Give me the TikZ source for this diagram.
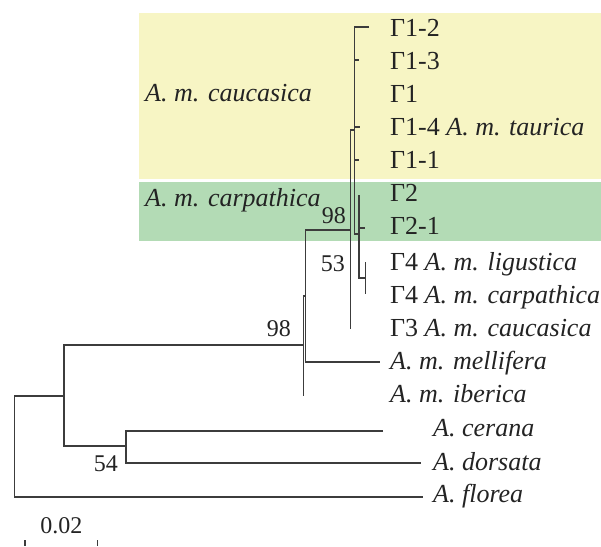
\documentclass[tikz,border=0pt]{standalone}
\usepackage{fontspec}
\setmainfont{Liberation Serif}
\definecolor{yellowbg}{RGB}{247,245,196}
\definecolor{greenbg}{RGB}{179,219,181}
\definecolor{treeline}{RGB}{60,60,60}
\definecolor{txt}{RGB}{35,35,35}
\begin{document}
\begin{tikzpicture}[x=1pt,y=-1pt,
  branch/.style={draw=treeline,line width=1.2pt},
  leaf/.style={anchor=base west,inner sep=0pt,text=txt,font=\fontsize{26}{30}\selectfont},
  boot/.style={anchor=base east,inner sep=0pt,text=txt,font=\fontsize{24}{28}\selectfont}]
\useasboundingbox (0,0) rectangle (601,546);
% background bands
\fill[yellowbg] (139,13) rectangle (601,179);
\fill[greenbg] (139,182) rectangle (601,241);
% tips
\coordinate (t12) at (369,27);
\coordinate (t13) at (358.7,60);
\coordinate (t1) at (354.7,94);
\coordinate (t14) at (360,127);
\coordinate (t11) at (359,160);
\coordinate (t2) at (359,195);
\coordinate (t21) at (365,228);
\coordinate (t4l) at (365.3,262);
\coordinate (t4c) at (365.3,294);
\coordinate (t3) at (350.7,329);
\coordinate (tMel) at (380,362);
\coordinate (tIb) at (303.3,395.7);
\coordinate (tC) at (383,431);
\coordinate (tD) at (420.7,463);
\coordinate (tF) at (422.7,497);
% internal nodes
\coordinate (G4) at (365.3,278);
\coordinate (G2) at (359,234);
\coordinate (G1) at (354.7,130);
\coordinate (B) at (350.7,230);
\coordinate (Y) at (305.7,296);
\coordinate (X) at (303.3,345);
\coordinate (W) at (126,446);
\coordinate (Z) at (64,396);
\coordinate (R) at (14.7,446);
% branches
\draw[branch] (Z) -| (R) |- (tF);
\draw[branch] (X) -| (Z) |- (W);
\draw[branch] (tC) -| (W) |- (tD);
\draw[branch] (Y) -| (X) |- (tIb);
\draw[branch] (B) -| (Y) |- (tMel);
\draw[branch] (G1) -| (B) |- (t3);
\draw[branch] (t12) -| (G1) |- (G2);
\draw[branch] (G1 |- t13) -- (t13);
\draw[branch] (G1 |- t14) -- (t14);
\draw[branch] (G1 |- t11) -- (t11);
\draw[branch] (t2) |- (G4);
\draw[branch] (G2 |- t21) -- (t21);
\draw[branch] (t4l) -- (t4c);
% leaf labels
\node[leaf] (l12) at (390,36) {Γ1-2};
\node[leaf] (l13) at (390,69) {Γ1-3};
\node[leaf] (l1) at (390,102) {Γ1};
\node[leaf] (l14) at (390,135) {Γ1-4 \textit{A. m. taurica}};
\node[leaf] (l11) at (390,168) {Γ1-1};
\node[leaf] (l2) at (390,201) {Γ2};
\node[leaf] (l21) at (390,234) {Γ2-1};
\node[leaf] (l4l) at (390,270) {Γ4 \textit{A. m. ligustica}};
\node[leaf] (l4c) at (390,303) {Γ4 \textit{A. m. carpathica}};
\node[leaf] (l3) at (390,336) {Γ3 \textit{A. m. caucasica}};
\node[leaf] (lMel) at (390,369) {\textit{A. m. mellifera}};
\node[leaf] (lIb) at (390,402.7) {\textit{A. m. iberica}};
\node[leaf] (lC) at (433,436) {\textit{A. cerana}};
\node[leaf] (lD) at (433,470) {\textit{A. dorsata}};
\node[leaf] (lF) at (433,502) {\textit{A. florea}};
% group labels
\node[leaf] (gCau) at (145,101.7) {\textit{A. m. caucasica}};
\node[leaf] (gCar) at (145,206.5) {\textit{A. m. carpathica}};
% bootstrap values
\node[boot] (b98a) at (346,223) {98};
\node[boot] (b53) at (345,271.7) {53};
\node[boot] (b98b) at (291,336.7) {98};
\node[boot] (b54) at (118,471.7) {54};
% scale bar
\coordinate (s1) at (25,540);
\coordinate (s2) at (97.7,540);
\draw[branch] (s1) -- ++(0,6);
\draw[branch] (s2) -- ++(0,6);
\node[anchor=base,inner sep=0pt,text=txt,font=\fontsize{24}{28}\selectfont] (sl) at (61.3,533) {0.02};
\end{tikzpicture}
\end{document}
